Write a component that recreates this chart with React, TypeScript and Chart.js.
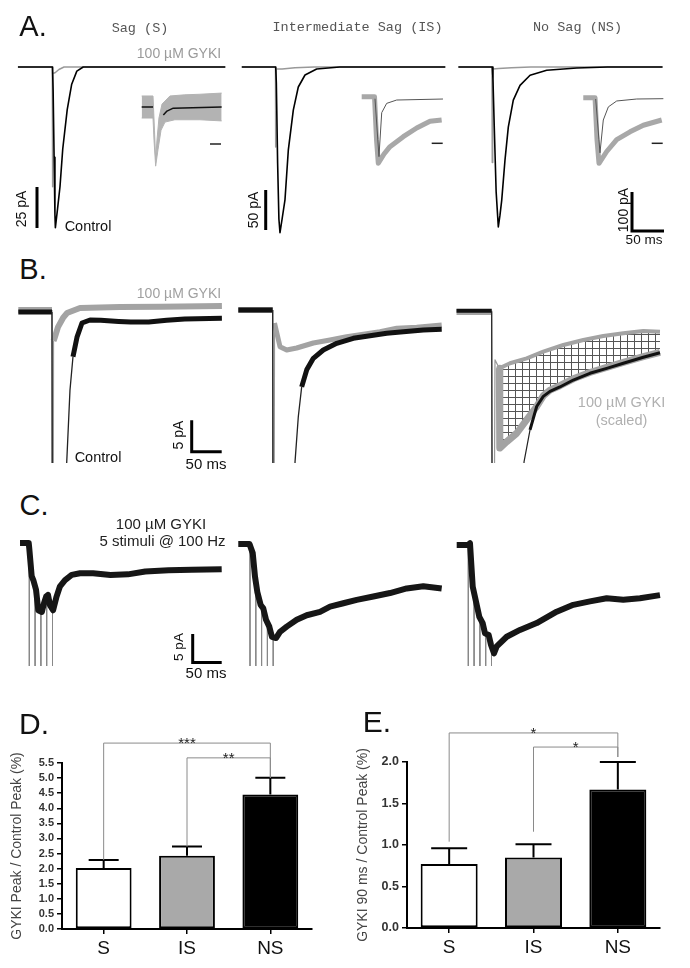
import React, { useEffect, useRef } from 'react';
import { Chart, registerables } from 'chart.js';

const SANS = "'Liberation Sans', Arial, Helvetica, sans-serif";
const MONO = "'Liberation Mono', 'Courier New', monospace";

Chart.register(...registerables);
Chart.defaults.font.family = SANS;

type Pair = [number, number | null];

// ---------------- DATA (time in ms from stimulus, current in pA) ----------------
// Panel A — full traces
const a1Control: Pair[] = [[-54, 0], [0, 0], [1, -15], [2.5, -55], [3.8, -90], [4.5, -98], [8, -86], [11.7, -73], [16, -50], [23, -26], [30, -10.5], [38, -2.5], [48, 0], [270, 0]];
const a1Gyki: Pair[] = [[-54, 0], [-0.3, 0], [0, -73], [0.5, -4], [4, -3.5], [10, -1.5], [18, 0], [270, 0]];
const a2Control: Pair[] = [[-53, 0], [0, 0], [1, -20], [3, -120], [5, -190], [6.7, -207], [10, -190], [14.5, -166], [19.7, -104], [27.5, -54], [35.3, -25], [45.8, -10], [64, -2.5], [100, 0], [265, 0]];
const a2Gyki: Pair[] = [[-53, 0], [-0.3, 0], [0, -100], [0.6, -2.5], [10, -2.5], [30, -1], [60, 0], [265, 0]];
const a3Control: Pair[] = [[-53, 0], [0, 0], [1, -30], [3, -150], [6, -320], [9.4, -410], [12, -380], [14.7, -342], [19.8, -239], [25, -154], [32.8, -85], [43.3, -47], [59, -21], [85, -8.5], [132, -2.5], [180, 0], [266, 0]];
const a3Gyki: Pair[] = [[-53, 0], [-0.5, 0], [0, -245], [0.6, -5], [10, -4], [30, -2], [60, 0], [266, 0]];

// Panel A — insets (time in ms, amplitude normalised to control peak)
const a1InsetUpper: Pair[] = [[-11.2, 0.19], [-0.9, 0.19], [0.45, -0.4], [1.5, -0.91], [2.7, -0.57], [4.5, -0.19], [7.3, 0.05], [14.5, 0.19], [28, 0.21], [41.8, 0.22], [61.5, 0.24]];
const a1InsetLower: Pair[] = [[-11.2, -0.19], [-0.9, -0.19], [0, -0.57], [1.5, -1.02], [3.6, -0.74], [6.4, -0.4], [10, -0.26], [19, -0.22], [41.8, -0.22], [61.5, -0.24]];
const a1InsetFit: Pair[] = [[-11.2, 0], [-0.9, 0], [0, null], [8.5, -0.14], [11.8, -0.07], [17.5, -0.02], [61.5, 0]];
const a2InsetGyki: Pair[] = [[-12.1, 0], [-0.45, 0], [1.4, -0.65], [3, -1], [8.2, -0.86], [13.6, -0.75], [25.7, -0.6], [37.9, -0.47], [50, -0.37], [60.6, -0.35]];
const a2InsetControl: Pair[] = [[0, -0.03], [3.6, -0.9], [6.1, -0.24], [10.6, -0.1], [19.7, -0.05], [61.8, -0.035]];
const a3InsetGyki: Pair[] = [[-11.3, 0], [-0.6, 0], [1.2, -0.64], [3, -1], [10, -0.82], [19.1, -0.64], [31.2, -0.52], [43.3, -0.42], [60, -0.34]];
const a3InsetControl: Pair[] = [[0, -0.02], [3.9, -0.84], [6.9, -0.34], [11.5, -0.14], [19.1, -0.05], [37.3, -0.02], [61.5, -0.015]];

// Panel B
const b1GykiBase: Pair[] = [[-57.3, 0.3], [-1.2, 0.3]];
const b1GykiArt: Pair[] = [[-1.2, 0.3], [0, -93], [1.3, -4.6]];
const b1Gyki: Pair[] = [[1.3, -4.6], [3, -4.2], [8.8, -2.4], [17.2, -0.95], [23.8, -0.16], [45.5, 0.63], [112, 0.8], [180, 0.85], [282, 0.95]];
const b1ControlBase: Pair[] = [[-57.3, 0], [-1.2, 0]];
const b1ControlArt: Pair[] = [[-1.2, 0], [0.5, -93], [22.2, -93], [23.3, -24], [28.8, -12.4], [33.8, -7.1]];
const b1Control: Pair[] = [[33.8, -7.1], [40.5, -4], [48.8, -1.75], [62.2, -1.27], [80, -1.3], [110, -1.5], [130, -1.6], [160, -1.6], [190, -1.3], [220, -1.1], [282, -1.0]];

const b2GykiBase: Pair[] = [[-58.3, 0], [-1, 0]];
const b2GykiArt: Pair[] = [[-1, 0], [0, -93.7], [2, -2.06]];
const b2Gyki: Pair[] = [[2, -2.06], [11.2, -5.83], [22.3, -6.35], [39, -6.03], [66.7, -5.24], [94.5, -4.76], [122.3, -4.24], [150, -3.86], [177.8, -3.44], [205.7, -2.9], [239, -2.75], [280.7, -2.38]];
const b2ControlBase: Pair[] = [[-58.3, 0], [-1, 0]];
const b2ControlArt: Pair[] = [[-1, 0], [0.3, -93.7], [35.3, -93.7], [36.2, -24.1], [41.7, -16.9], [47.3, -12.2]];
const b2Control: Pair[] = [[47.3, -12.2], [55.7, -9.5], [66.7, -7.67], [83.3, -6.35], [105.7, -5.29], [133.3, -4.49], [161.2, -4.08], [189, -3.7], [216.7, -3.44], [250, -3.17], [280.7, -3.06]];

const b3GykiBase: Pair[] = [[-60.3, 0], [-1.7, 0]];
const b3GykiArt: Pair[] = [[-1.7, 0], [0, -93.3], [3.8, -7.6], [11, -8.94]];
const b3Gyki: Pair[] = [[11, -8.94], [28.8, -8.14], [56.7, -7.35], [84.3, -6.3], [117.7, -5.24], [151, -4.44], [184.3, -3.81], [217.7, -3.38], [251, -3.02], [278.8, -3.13]];
const b3GykiScaled: Pair[] = [[11, -8.94], [11.8, -21.6], [23.3, -20.6], [40, -19.25], [56.7, -17.1], [73.3, -15], [84.3, -13.3], [95.5, -12.4], [112, -11.7], [134.3, -10.6], [162, -9.6], [190, -8.8], [217.7, -8.0], [251, -7.1], [278.8, -6.4]];
const b3ControlBase: Pair[] = [[-60.3, 0.2], [-1.7, 0.2]];
const b3ControlArt: Pair[] = [[-1.7, 0.2], [0.5, -93.3], [50.5, -93.3], [52.2, -23.8], [62.2, -18.7]];
const b3Control: Pair[] = [[62.2, -18.7], [73.3, -15], [84.3, -13.4], [95.5, -12.6], [112, -11.9], [134.3, -10.8], [162, -9.73], [190, -8.94], [217.7, -8.14], [251, -7.19], [278.8, -6.46]];

// Panel C (5 stimuli @ 100 Hz)
const stimTimes = [0, 10, 20, 30, 40];
const c1Trace: Pair[] = [[-16, 0], [-1, 0], [0, -1], [4.1, -5.8], [6.9, -6.5], [11.6, -8.2], [15.5, -11.8], [21.6, -12.1], [25.5, -10.5], [29, -9.4], [32.2, -9.1], [35.7, -10.9], [41, -11.8], [47, -9.4], [52.9, -7.6], [61.6, -6.5], [73.1, -5.6], [87.4, -5.3], [110, -5.3], [140, -5.6], [170, -5.5], [200, -5.0], [240, -4.8], [280, -4.7], [331.7, -4.6]];
const c1ArtTops = [0, -7.4, -11.8, -9.5, -11.2];
const c2Trace: Pair[] = [[-20.2, 0], [-0.9, 0], [4.7, -1.6], [8.6, -5.7], [12.6, -8.4], [18.4, -10.7], [22.9, -11.3], [27.6, -13.3], [33.3, -14.5], [37.9, -16.3], [44.8, -16.5], [51.7, -15.4], [63.3, -14.5], [80.5, -13.3], [97.8, -12.5], [120.7, -11.9], [138, -11], [160.9, -10.4], [184, -9.8], [212.6, -9.2], [241.4, -8.6], [270.2, -7.8], [298.8, -7.4], [330.5, -7.8]];
const c2ArtTops = [0, -7, -11, -14, -16.4];
const c3Trace: Pair[] = [[-20, 0], [-0.5, 0], [2.9, 0.3], [7.6, -7.3], [14.5, -10.5], [19, -12.6], [24.8, -13.7], [28.8, -15.5], [35.2, -15.8], [39.1, -17.5], [44.3, -19], [49, -17.8], [66.2, -16.1], [89.1, -14.9], [117.9, -13.7], [152.4, -11.7], [181, -10.5], [209.8, -9.9], [238.6, -9.35], [267.2, -9.6], [296, -9.35], [330.5, -8.8]];
const c3ArtTops = [0, -8, -13, -15.6, -17.6];
const ART_FLOOR = -60;

// Panels D & E
const groups = ['S', 'IS', 'NS'];
const peakMean = [2.02, 2.43, 4.46];
const peakSem = [0.27, 0.30, 0.55];
const late90Mean = [0.77, 0.85, 1.67];
const late90Sem = [0.19, 0.16, 0.33];
const dBracketPairs = [[0, 2], [1, 2]];
const dBracketLevels = [6.16, 5.67];
const dBracketEnds = [[2.29, 5.01], [2.73, 5.01]];
const dBracketLabels = ['***', '**'];
const eBracketPairs = [[0, 2], [1, 2]];
const eBracketLevels = [2.35, 2.18];
const eBracketEnds = [[1.04, 2.06], [1.16, 2.06]];
const eBracketLabels = ['*', '*'];

// ---------------- helpers ----------------
interface Box { left: number; top: number; width: number; height: number }
interface Mapping { x0: number; px: number; y0: number; py: number }
interface SBar { x: number; y: number; ms?: number; pA?: number; w?: number; color?: string }

function ln(data: Pair[], color: string, width: number, extra: any = {}) {
  return {
    data: data.map(([x, y]) => ({ x, y })),
    borderColor: color,
    backgroundColor: color,
    borderWidth: width,
    pointRadius: 0,
    pointHoverRadius: 0,
    fill: false,
    tension: 0,
    borderJoinStyle: 'round',
    borderCapStyle: 'butt',
    spanGaps: false,
    ...extra,
  };
}

function artifactPairs(times: number[], tops: number[]): Pair[] {
  const out: Pair[] = [];
  times.forEach((t, i) => {
    out.push([t, tops[i]], [t, ART_FLOOR], [t, null]);
  });
  return out;
}

function hatch(): any {
  const c = document.createElement('canvas');
  c.width = 7;
  c.height = 7;
  const g = c.getContext('2d');
  if (!g) return '#ccc';
  g.strokeStyle = '#555';
  g.lineWidth = 1;
  g.beginPath();
  g.moveTo(0.5, 0);
  g.lineTo(0.5, 7);
  g.moveTo(0, 0.5);
  g.lineTo(7, 0.5);
  g.stroke();
  return g.createPattern(c, 'repeat') || '#ccc';
}

function TraceChart({ box, map, build, bars = [] }: { box: Box; map: Mapping; build: () => any[]; bars?: SBar[] }) {
  const ref = useRef<HTMLCanvasElement>(null);
  useEffect(() => {
    const canvas = ref.current;
    if (!canvas) return;
    const barPlugin = {
      id: 'scaleBars',
      afterDatasetsDraw(chart: any) {
        const { ctx } = chart;
        const xs = chart.scales.x;
        const ys = chart.scales.y;
        bars.forEach((b) => {
          const x = b.x - box.left;
          const y = b.y - box.top;
          const lx = b.ms ? Math.abs(xs.getPixelForValue(b.ms) - xs.getPixelForValue(0)) : 0;
          const ly = b.pA ? Math.abs(ys.getPixelForValue(b.pA) - ys.getPixelForValue(0)) : 0;
          ctx.save();
          ctx.strokeStyle = b.color || '#000';
          ctx.lineWidth = b.w || 3;
          ctx.lineCap = 'butt';
          ctx.lineJoin = 'miter';
          ctx.beginPath();
          if (ly) {
            ctx.moveTo(x, y - ly);
            ctx.lineTo(x, y);
          } else ctx.moveTo(x, y);
          if (lx) ctx.lineTo(x + lx, y);
          ctx.stroke();
          ctx.restore();
        });
      },
    };
    const chart = new Chart(canvas, {
      type: 'line',
      data: { datasets: build() },
      options: {
        animation: false,
        responsive: false,
        events: [],
        layout: { padding: 0 },
        plugins: { legend: { display: false }, tooltip: { enabled: false }, filler: { drawTime: 'beforeDatasetsDraw' } },
        scales: {
          x: { type: 'linear', display: false, min: (box.left - map.x0) / map.px, max: (box.left + box.width - map.x0) / map.px },
          y: { type: 'linear', display: false, min: (map.y0 - box.top - box.height) / map.py, max: (map.y0 - box.top) / map.py },
        },
      },
      plugins: [barPlugin],
    } as any);
    return () => chart.destroy();
  }, []);
  return <canvas ref={ref} width={box.width} height={box.height} style={{ position: 'absolute', left: box.left, top: box.top }} />;
}

function BarPanel(props: {
  box: Box; area: { left: number; top: number; right: number; xh: number };
  means: number[]; sems: number[]; yMax: number; title: string; titlePad: number; tickSize: number;
  pairs: number[][]; levels: number[]; ends: number[][]; labels: string[]; capW: number; barPct: number;
}) {
  const ref = useRef<HTMLCanvasElement>(null);
  useEffect(() => {
    const canvas = ref.current;
    if (!canvas) return;
    const { area, means, sems, yMax, title, titlePad, tickSize, pairs, levels, ends, labels, capW, barPct } = props;
    const annot = {
      id: 'errAndSig',
      afterDatasetsDraw(chart: any) {
        const { ctx } = chart;
        const y = chart.scales.y;
        const meta = chart.getDatasetMeta(0);
        ctx.save();
        ctx.strokeStyle = '#000';
        ctx.lineWidth = 2;
        ctx.lineCap = 'butt';
        means.forEach((m, i) => {
          const bx = meta.data[i].x;
          const y0 = y.getPixelForValue(m);
          const y1 = y.getPixelForValue(m + sems[i]);
          ctx.beginPath();
          ctx.moveTo(bx, y0);
          ctx.lineTo(bx, y1);
          ctx.moveTo(bx - capW / 2, y1);
          ctx.lineTo(bx + capW / 2, y1);
          ctx.stroke();
        });
        pairs.forEach(([a, b], k) => {
          const xa = meta.data[a].x;
          const xb = meta.data[b].x;
          const yl = y.getPixelForValue(levels[k]);
          ctx.strokeStyle = '#8a8a8a';
          ctx.lineWidth = 1;
          ctx.beginPath();
          ctx.moveTo(xa, y.getPixelForValue(ends[k][0]));
          ctx.lineTo(xa, yl);
          ctx.lineTo(xb, yl);
          ctx.lineTo(xb, y.getPixelForValue(ends[k][1]));
          ctx.stroke();
          ctx.fillStyle = '#222';
          ctx.font = `15px ${SANS}`;
          ctx.textAlign = 'center';
          ctx.textBaseline = 'alphabetic';
          ctx.fillText(labels[k], (xa + xb) / 2, yl + 5);
        });
        ctx.restore();
      },
    };
    const chart = new Chart(canvas, {
      type: 'bar',
      data: {
        labels: groups,
        datasets: [{
          data: means,
          backgroundColor: ['#ffffff', '#a9a9a9', '#000000'],
          borderColor: '#000',
          borderWidth: 2,
          borderSkipped: false,
          categoryPercentage: 1,
          barPercentage: barPct,
        }],
      },
      options: {
        animation: false,
        responsive: false,
        events: [],
        layout: { padding: { left: 0, top: area.top, right: area.right, bottom: 0 } },
        plugins: { legend: { display: false }, tooltip: { enabled: false } },
        scales: {
          x: {
            afterFit: (s: any) => { s.height = area.xh; },
            grid: { offset: false, drawOnChartArea: false, tickLength: 5, color: '#000', lineWidth: 1.5 },
            border: { color: '#000', width: 2 },
            ticks: { font: { size: 19 }, color: '#111', padding: 3 },
          },
          y: {
            min: 0,
            max: yMax,
            afterFit: (s: any) => { s.width = area.left; },
            ticks: { stepSize: 0.5, autoSkip: false, callback: (v: any) => Number(v).toFixed(1), font: { size: tickSize, weight: 'bold' }, color: '#333', padding: 3 },
            grid: { drawOnChartArea: false, tickLength: 5, color: '#000', lineWidth: 1.5 },
            border: { color: '#000', width: 2 },
            title: { display: true, text: title, font: { size: 14 }, color: '#444', padding: { top: titlePad, bottom: 0 } },
          },
        },
      },
      plugins: [annot],
    } as any);
    return () => chart.destroy();
  }, []);
  const { box } = props;
  return <canvas ref={ref} width={box.width} height={box.height} style={{ position: 'absolute', left: box.left, top: box.top }} />;
}

function Txt({ x, y, s = 14, c = '#111', f = SANS, r = 0, children }: { x: number; y: number; s?: number; c?: string; f?: string; r?: number; children: any }) {
  return (
    <div
      style={{
        position: 'absolute', left: x, top: y,
        transform: `translate(-50%, -50%)${r ? ` rotate(${r}deg)` : ''}`,
        fontSize: s, color: c, fontFamily: f, lineHeight: 1, whiteSpace: 'nowrap',
      }}
    >
      {children}
    </div>
  );
}

const GRAY = '#a3a3a3';
const DARK = '#111';

export default function App() {
  return (
    <div style={{ position: 'absolute', left: 0, top: 0, width: 690, height: 968, background: '#fff', overflow: 'hidden' }}>
      {/* Panel A */}
      <TraceChart box={{ left: 14, top: 40, width: 214, height: 200 }} map={{ x0: 52.5, px: 0.64, y0: 67, py: 1.64 }}
        build={() => [ln(a1Control, '#000', 1.6), ln(a1Gyki, '#999', 1.5)]}
        bars={[{ x: 37, y: 228, pA: 25 }]} />
      <TraceChart box={{ left: 138, top: 86, width: 88, height: 84 }} map={{ x0: 154, px: 1.1, y0: 107, py: 58 }}
        build={() => [ln(a1InsetFit, '#111', 1.5), ln(a1InsetUpper, '#b3b3b3', 1, { fill: 2, backgroundColor: '#b3b3b3' }), ln(a1InsetLower, '#b3b3b3', 1)]}
        bars={[{ x: 210, y: 144, ms: 10, w: 1.5, color: '#222' }]} />
      <TraceChart box={{ left: 234, top: 40, width: 216, height: 200 }} map={{ x0: 275.7, px: 0.64, y0: 67, py: 0.8 }}
        build={() => [ln(a2Control, '#000', 1.6), ln(a2Gyki, '#999', 1.5)]}
        bars={[{ x: 265.7, y: 230, pA: 50 }]} />
      <TraceChart box={{ left: 358, top: 86, width: 90, height: 84 }} map={{ x0: 375, px: 1.1, y0: 96.7, py: 66.6 }}
        build={() => [ln(a2InsetControl, '#555', 1), ln(a2InsetGyki, '#a8a8a8', 5)]}
        bars={[{ x: 431.7, y: 143.3, ms: 10, w: 1.5, color: '#222' }]} />
      <TraceChart box={{ left: 452, top: 40, width: 216, height: 200 }} map={{ x0: 492.3, px: 0.64, y0: 67, py: 0.39 }}
        build={() => [ln(a3Control, '#000', 1.6), ln(a3Gyki, '#999', 1.5)]}
        bars={[{ x: 632, y: 231, pA: 100, ms: 50 }]} />
      <TraceChart box={{ left: 578, top: 86, width: 90, height: 84 }} map={{ x0: 595.7, px: 1.1, y0: 97.7, py: 65.6 }}
        build={() => [ln(a3InsetControl, '#555', 1), ln(a3InsetGyki, '#a8a8a8', 5)]}
        bars={[{ x: 651.7, y: 143.3, ms: 10, w: 1.5, color: '#222' }]} />

      {/* Panel B */}
      <TraceChart box={{ left: 14, top: 285, width: 214, height: 178 }} map={{ x0: 52.7, px: 0.6, y0: 312, py: 6.3 }}
        build={() => [ln(b1Control, DARK, 5), ln(b1ControlArt, '#222', 1.3), ln(b1ControlBase, DARK, 5), ln(b1Gyki, GRAY, 6), ln(b1GykiArt, '#999', 1.3), ln(b1GykiBase, GRAY, 6)]}
        bars={[{ x: 191.7, y: 451.7, pA: 5, ms: 50 }]} />
      <TraceChart box={{ left: 234, top: 285, width: 214, height: 178 }} map={{ x0: 273.3, px: 0.6, y0: 310, py: 6.3 }}
        build={() => [ln(b2Control, DARK, 5), ln(b2ControlArt, '#222', 1.3), ln(b2ControlBase, DARK, 5), ln(b2Gyki, GRAY, 5), ln(b2GykiArt, '#999', 1.3), ln(b2GykiBase, GRAY, 6)]} />
      <TraceChart box={{ left: 452, top: 285, width: 216, height: 178 }} map={{ x0: 492.7, px: 0.6, y0: 312, py: 6.3 }}
        build={() => [ln(b3Control, DARK, 3), ln(b3ControlArt, '#222', 1.2), ln(b3ControlBase, DARK, 4), ln(b3Gyki, GRAY, 4, { fill: 4, backgroundColor: hatch() }), ln(b3GykiScaled, GRAY, 7), ln(b3GykiArt, '#999', 1.2), ln(b3GykiBase, GRAY, 6)]} />

      {/* Panel C */}
      <TraceChart box={{ left: 14, top: 525, width: 214, height: 141 }} map={{ x0: 29.3, px: 0.58, y0: 543, py: 5.7 }}
        build={() => [ln(c1Trace, '#161616', 6), ln(artifactPairs(stimTimes, c1ArtTops), '#888', 1)]}
        bars={[{ x: 192.7, y: 662.5, pA: 5, ms: 50 }]} />
      <TraceChart box={{ left: 234, top: 525, width: 214, height: 141 }} map={{ x0: 250, px: 0.58, y0: 544, py: 5.7 }}
        build={() => [ln(c2Trace, '#161616', 6), ln(artifactPairs(stimTimes, c2ArtTops), '#888', 1)]} />
      <TraceChart box={{ left: 452, top: 525, width: 216, height: 141 }} map={{ x0: 468.3, px: 0.58, y0: 545, py: 5.7 }}
        build={() => [ln(c3Trace, '#161616', 6), ln(artifactPairs(stimTimes, c3ArtTops), '#888', 1)]} />

      {/* Panels D & E */}
      <BarPanel box={{ left: 0, top: 700, width: 340, height: 268 }} area={{ left: 62, top: 63, right: 28, xh: 39 }}
        means={peakMean} sems={peakSem} yMax={5.5} title="GYKI Peak / Control Peak (%)" titlePad={9} tickSize={11}
        pairs={dBracketPairs} levels={dBracketLevels} ends={dBracketEnds} labels={dBracketLabels} capW={30} barPct={0.67} />
      <BarPanel box={{ left: 345, top: 700, width: 345, height: 268 }} area={{ left: 62, top: 62, right: 30, xh: 40 }}
        means={late90Mean} sems={late90Sem} yMax={2.0} title="GYKI 90 ms / Control Peak (%)" titlePad={10} tickSize={12.5}
        pairs={eBracketPairs} levels={eBracketLevels} ends={eBracketEnds} labels={eBracketLabels} capW={36} barPct={0.676} />

      {/* Text */}
      <Txt x={33} y={25.5} s={29}>A.</Txt>
      <Txt x={140} y={29} s={13.5} f={MONO} c="#555">Sag (S)</Txt>
      <Txt x={357.5} y={28} s={13.5} f={MONO} c="#555">Intermediate Sag (IS)</Txt>
      <Txt x={577.5} y={28} s={13.5} f={MONO} c="#555">No Sag (NS)</Txt>
      <Txt x={179} y={53} s={14} c="#9a9a9a">100 µM GYKI</Txt>
      <Txt x={88} y={226} s={14.5}>Control</Txt>
      <Txt x={21} y={209} s={14} r={-90}>25 pA</Txt>
      <Txt x={253} y={210} s={14} r={-90}>50 pA</Txt>
      <Txt x={622.5} y={210} s={14} r={-90}>100 pA</Txt>
      <Txt x={644} y={240} s={13.5}>50 ms</Txt>

      <Txt x={33} y={269} s={29}>B.</Txt>
      <Txt x={179} y={293} s={14} c="#a0a0a0">100 µM GYKI</Txt>
      <Txt x={98} y={457} s={14.5}>Control</Txt>
      <Txt x={178} y={435} s={14} r={-90}>5 pA</Txt>
      <Txt x={206} y={463} s={15}>50 ms</Txt>
      <Txt x={621.5} y={402} s={14.5} c="#b0b0b0">100 µM GYKI</Txt>
      <Txt x={621.5} y={420} s={14.5} c="#b0b0b0">(scaled)</Txt>

      <Txt x={34} y={505} s={29}>C.</Txt>
      <Txt x={161} y={523} s={15} c="#222">100 µM GYKI</Txt>
      <Txt x={162.5} y={540} s={15} c="#222">5 stimuli @ 100 Hz</Txt>
      <Txt x={179} y={647} s={13.5} r={-90}>5 pA</Txt>
      <Txt x={206} y={672} s={15}>50 ms</Txt>

      <Txt x={34} y={724} s={30}>D.</Txt>
      <Txt x={377} y={721.5} s={30}>E.</Txt>
    </div>
  );
}
